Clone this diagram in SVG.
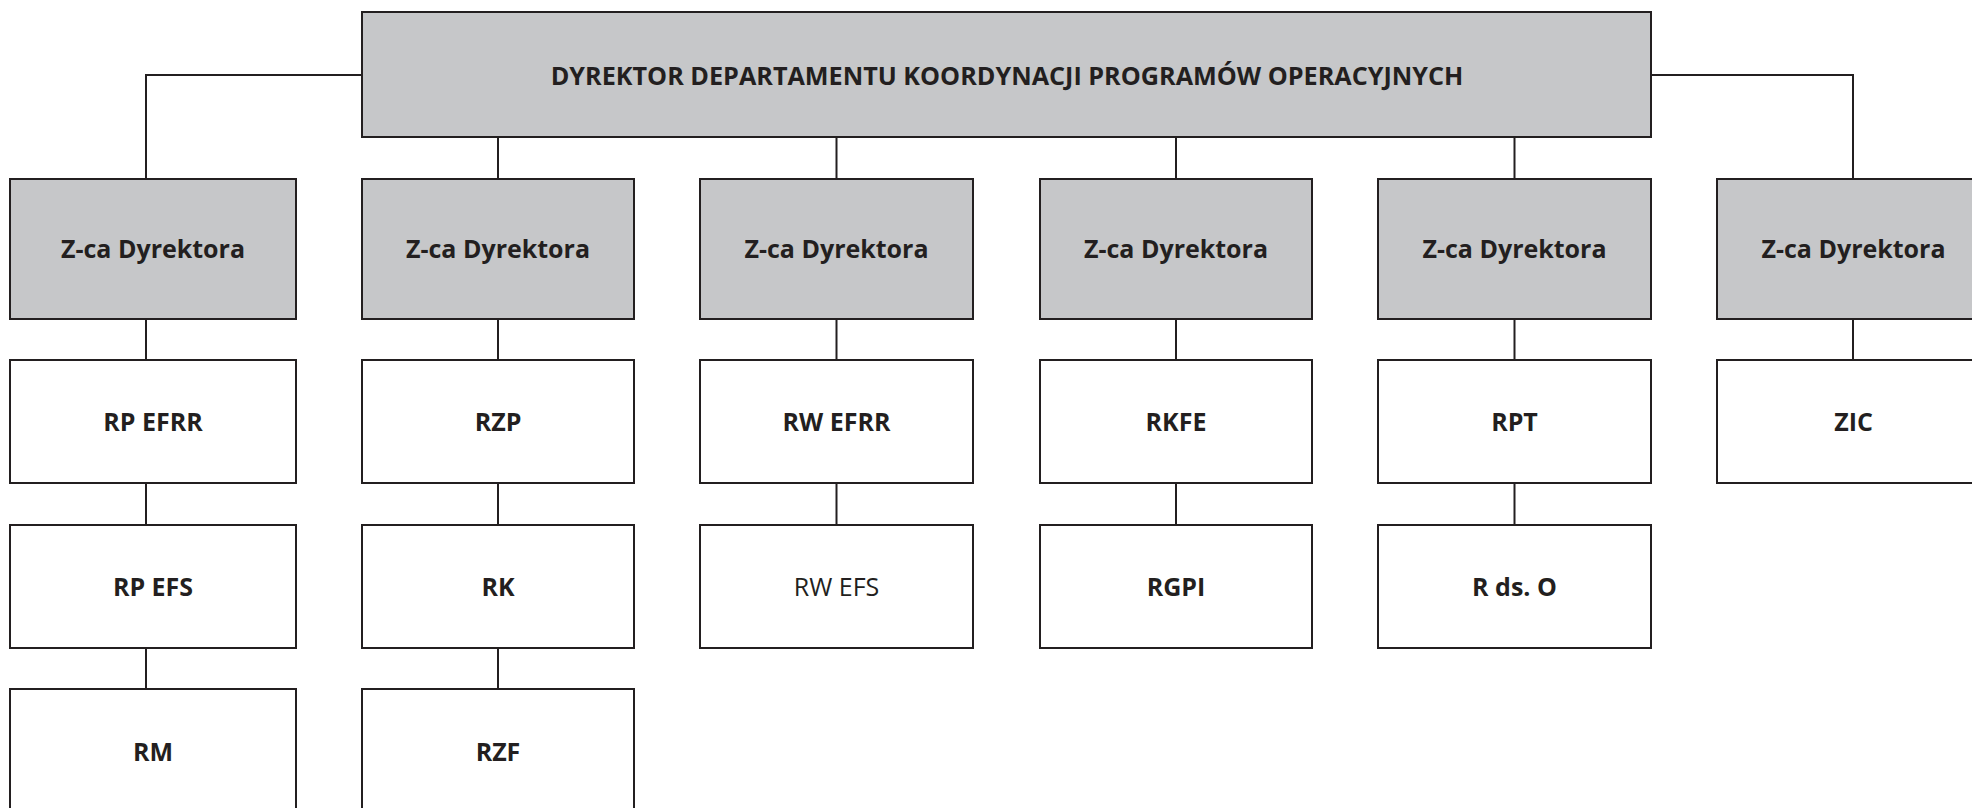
<svg xmlns="http://www.w3.org/2000/svg" width="1972" height="808" viewBox="0 0 1972 808">
<style>
.box{stroke:#231f20;stroke-width:2}
.g{fill:#c6c7c9}
.w{fill:#ffffff}
.t{font-family:"Open Sans","Noto Sans","Liberation Sans",sans-serif;font-weight:bold;font-size:25px;fill:#231f20;text-anchor:middle}
.r{font-weight:normal}
.h{font-size:25.2px}
.c{fill:none;stroke:#231f20;stroke-width:2}
</style>
<rect width="1972" height="808" fill="#ffffff"/>
<g id="connectors">
<polyline class="c" points="362,75 146,75 146,179"/>
<polyline class="c" points="1651,75 1853,75 1853,179"/>
<line class="c" x1="498" y1="137" x2="498" y2="179"/>
<line class="c" x1="836.5" y1="137" x2="836.5" y2="179"/>
<line class="c" x1="1176" y1="137" x2="1176" y2="179"/>
<line class="c" x1="1514.5" y1="137" x2="1514.5" y2="179"/>
<line class="c" x1="146" y1="319" x2="146" y2="360"/>
<line class="c" x1="146" y1="483" x2="146" y2="525"/>
<line class="c" x1="146" y1="648" x2="146" y2="689"/>
<line class="c" x1="498" y1="319" x2="498" y2="360"/>
<line class="c" x1="498" y1="483" x2="498" y2="525"/>
<line class="c" x1="498" y1="648" x2="498" y2="689"/>
<line class="c" x1="836.5" y1="319" x2="836.5" y2="360"/>
<line class="c" x1="836.5" y1="483" x2="836.5" y2="525"/>
<line class="c" x1="1176" y1="319" x2="1176" y2="360"/>
<line class="c" x1="1176" y1="483" x2="1176" y2="525"/>
<line class="c" x1="1514.5" y1="319" x2="1514.5" y2="360"/>
<line class="c" x1="1514.5" y1="483" x2="1514.5" y2="525"/>
<line class="c" x1="1853" y1="319" x2="1853" y2="360"/>
</g>
<g id="dyrektor"><rect class="box g" x="362" y="12" width="1289" height="125"/><text class="t h" x="1007" y="84.5">DYREKTOR DEPARTAMENTU KOORDYNACJI PROGRAMÓW OPERACYJNYCH</text></g>
<g id="zca1"><rect class="box g" x="10" y="179" width="286" height="140"/><text class="t" x="153" y="258">Z-ca Dyrektora</text></g>
<g id="zca2"><rect class="box g" x="362" y="179" width="272" height="140"/><text class="t" x="498" y="258">Z-ca Dyrektora</text></g>
<g id="zca3"><rect class="box g" x="700" y="179" width="273" height="140"/><text class="t" x="836.5" y="258">Z-ca Dyrektora</text></g>
<g id="zca4"><rect class="box g" x="1040" y="179" width="272" height="140"/><text class="t" x="1176" y="258">Z-ca Dyrektora</text></g>
<g id="zca5"><rect class="box g" x="1378" y="179" width="273" height="140"/><text class="t" x="1514.5" y="258">Z-ca Dyrektora</text></g>
<g id="zca6"><rect class="box g" x="1717" y="179" width="273" height="140"/><text class="t" x="1853.5" y="258">Z-ca Dyrektora</text></g>
<g id="rpefrr"><rect class="box w" x="10" y="360" width="286" height="123"/><text class="t" x="153" y="430.5">RP EFRR</text></g>
<g id="rpefs"><rect class="box w" x="10" y="525" width="286" height="123"/><text class="t" x="153" y="595.5">RP EFS</text></g>
<g id="rm"><rect class="box w" x="10" y="689" width="286" height="126"/><text class="t" x="153" y="761">RM</text></g>
<g id="rzp"><rect class="box w" x="362" y="360" width="272" height="123"/><text class="t" x="498" y="430.5">RZP</text></g>
<g id="rk"><rect class="box w" x="362" y="525" width="272" height="123"/><text class="t" x="498" y="595.5">RK</text></g>
<g id="rzf"><rect class="box w" x="362" y="689" width="272" height="126"/><text class="t" x="498" y="761">RZF</text></g>
<g id="rwefrr"><rect class="box w" x="700" y="360" width="273" height="123"/><text class="t" x="836.5" y="430.5">RW EFRR</text></g>
<g id="rwefs"><rect class="box w" x="700" y="525" width="273" height="123"/><text class="t r" x="836.5" y="595.5">RW EFS</text></g>
<g id="rkfe"><rect class="box w" x="1040" y="360" width="272" height="123"/><text class="t" x="1176" y="430.5">RKFE</text></g>
<g id="rgpi"><rect class="box w" x="1040" y="525" width="272" height="123"/><text class="t" x="1176" y="595.5">RGPI</text></g>
<g id="rpt"><rect class="box w" x="1378" y="360" width="273" height="123"/><text class="t" x="1514.5" y="430.5">RPT</text></g>
<g id="rdso"><rect class="box w" x="1378" y="525" width="273" height="123"/><text class="t" x="1514.5" y="595.5">R ds. O</text></g>
<g id="zic"><rect class="box w" x="1717" y="360" width="273" height="123"/><text class="t" x="1853.5" y="430.5">ZIC</text></g>
</svg>
